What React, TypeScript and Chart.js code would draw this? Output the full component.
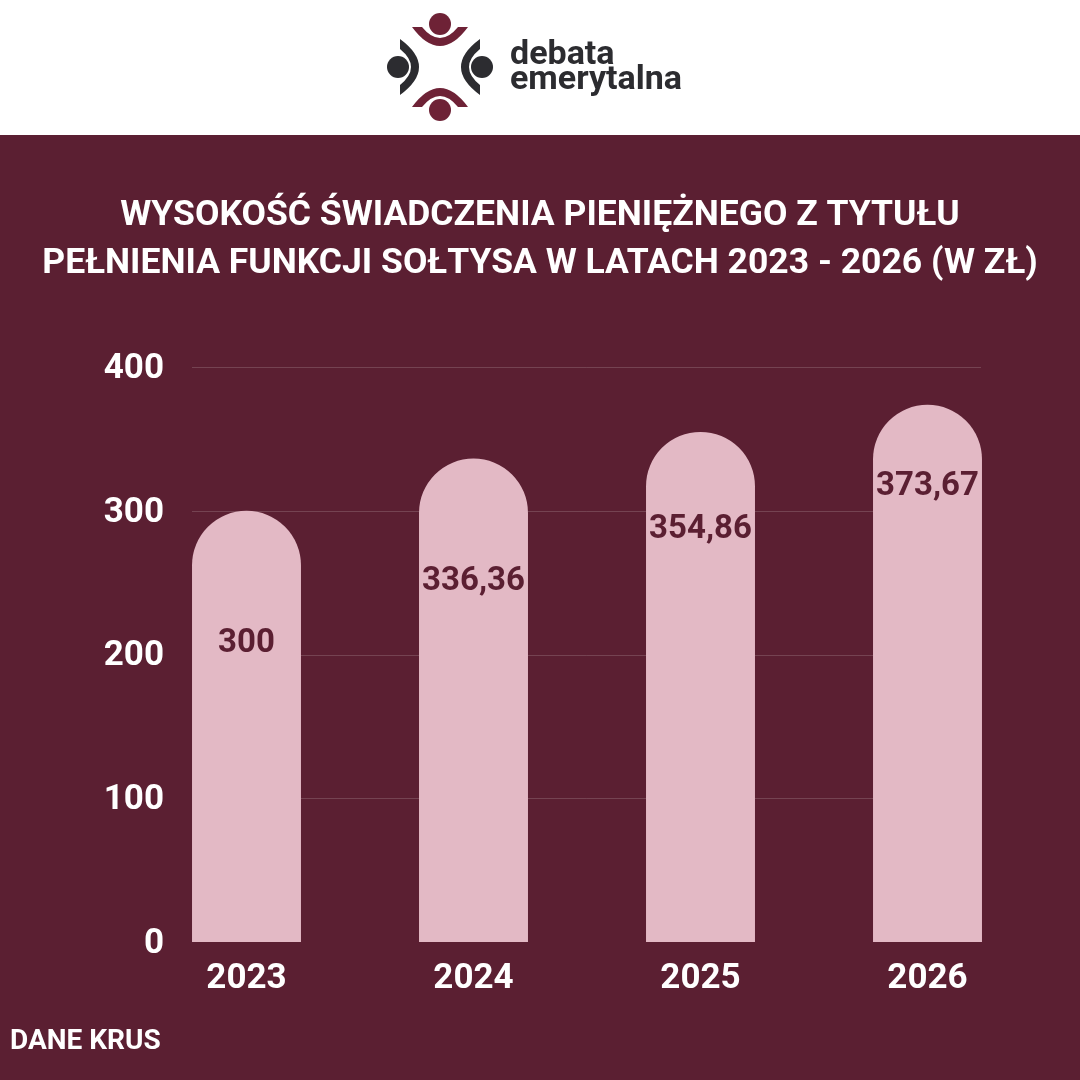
import React, { useEffect, useRef } from "react";
import { Chart, registerables } from "chart.js";

Chart.register(...registerables);

const years = ["2023", "2024", "2025", "2026"];
const amounts = [300, 336.36, 354.86, 373.67];
const amountLabels = ["300", "336,36", "354,86", "373,67"];
const yTicks = [0, 100, 200, 300, 400];
const titleLines = [
  "WYSOKOŚĆ ŚWIADCZENIA PIENIĘŻNEGO Z TYTUŁU",
  "PEŁNIENIA FUNKCJI SOŁTYSA W LATACH 2023 - 2026 (W ZŁ)",
];
const sourceText = "DANE KRUS";

const BG = "#5b1f32";
const BAR = "#e3b9c5";
const FONT = "Roboto";
// label drop below bar top (px), per bar
const labelDrop = [131, 121, 96, 80];

const decorPlugin = {
  id: "decor",
  beforeDraw(chart: any) {
    const { ctx } = chart;
    ctx.save();
    ctx.fillStyle = BG;
    ctx.fillRect(0, 0, 1080, 1080);
    ctx.fillStyle = "#ffffff";
    ctx.fillRect(0, 0, 1080, 135);
    // logo
    const maroon = "#6e2236";
    const dark = "#2c2c30";
    const cx = 440, cy = 67;
    ctx.fillStyle = maroon;
    // top person
    ctx.beginPath(); ctx.arc(cx, cy - 43, 11, 0, Math.PI * 2); ctx.fill();
    ctx.beginPath();
    ctx.moveTo(cx - 28, cy - 40);
    ctx.quadraticCurveTo(cx, cy - 2, cx + 28, cy - 40);
    ctx.lineTo(cx + 18, cy - 40);
    ctx.quadraticCurveTo(cx, cy - 18, cx - 18, cy - 40);
    ctx.closePath(); ctx.fill();
    // bottom person
    ctx.beginPath(); ctx.arc(cx, cy + 43, 11, 0, Math.PI * 2); ctx.fill();
    ctx.beginPath();
    ctx.moveTo(cx - 28, cy + 40);
    ctx.quadraticCurveTo(cx, cy + 2, cx + 28, cy + 40);
    ctx.lineTo(cx + 18, cy + 40);
    ctx.quadraticCurveTo(cx, cy + 18, cx - 18, cy + 40);
    ctx.closePath(); ctx.fill();
    ctx.fillStyle = dark;
    // left person
    ctx.beginPath(); ctx.arc(cx - 42, cy, 11, 0, Math.PI * 2); ctx.fill();
    ctx.beginPath();
    ctx.moveTo(cx - 40, cy - 28);
    ctx.quadraticCurveTo(cx - 2, cy, cx - 40, cy + 28);
    ctx.lineTo(cx - 40, cy + 18);
    ctx.quadraticCurveTo(cx - 18, cy, cx - 40, cy - 18);
    ctx.closePath(); ctx.fill();
    // right person
    ctx.beginPath(); ctx.arc(cx + 42, cy, 11, 0, Math.PI * 2); ctx.fill();
    ctx.beginPath();
    ctx.moveTo(cx + 40, cy - 28);
    ctx.quadraticCurveTo(cx + 2, cy, cx + 40, cy + 28);
    ctx.lineTo(cx + 40, cy + 18);
    ctx.quadraticCurveTo(cx + 18, cy, cx + 40, cy - 18);
    ctx.closePath(); ctx.fill();
    ctx.font = `bold 34px ${FONT}`;
    ctx.textAlign = "left";
    ctx.textBaseline = "alphabetic";
    ctx.fillText("debata", 510, 64);
    ctx.fillText("emerytalna", 510, 89);
    // title
    ctx.fillStyle = "#ffffff";
    ctx.font = `bold 35.5px ${FONT}`;
    ctx.textAlign = "center";
    ctx.textBaseline = "middle";
    ctx.fillText(titleLines[0], 540, 216);
    ctx.fillText(titleLines[1], 540, 264);
    // source
    ctx.font = `bold 28px ${FONT}`;
    ctx.textAlign = "left";
    ctx.fillText(sourceText, 10, 1042);
    // gridlines and y labels
    const y = chart.scales.y;
    ctx.lineWidth = 1;
    yTicks.forEach((t) => {
      const py = y.getPixelForValue(t);
      if (t !== 0) {
        ctx.strokeStyle = "rgba(255,255,255,0.16)";
        const ly = Math.round(py) + 0.5;
        ctx.beginPath(); ctx.moveTo(192, ly); ctx.lineTo(981, ly); ctx.stroke();
      }
      ctx.fillStyle = "#ffffff";
      ctx.font = `bold 35px ${FONT}`;
      ctx.textAlign = "right";
      ctx.textBaseline = "middle";
      ctx.fillText(String(t), 164, py + 2);
    });
    ctx.restore();
  },
  afterDatasetsDraw(chart: any) {
    const { ctx } = chart;
    const meta = chart.getDatasetMeta(0);
    ctx.save();
    ctx.fillStyle = BG;
    ctx.font = `bold 33px ${FONT}`;
    ctx.textAlign = "center";
    ctx.textBaseline = "middle";
    meta.data.forEach((bar: any, i: number) => {
      ctx.fillText(amountLabels[i], bar.x, bar.y + labelDrop[i] + 2);
    });
    ctx.restore();
  },
};

export default function App() {
  const ref = useRef<HTMLCanvasElement>(null);
  useEffect(() => {
    const chart = new Chart(ref.current!, {
      type: "bar",
      data: {
        labels: years,
        datasets: [
          {
            data: amounts,
            backgroundColor: BAR,
            borderRadius: { topLeft: 60, topRight: 60, bottomLeft: 0, bottomRight: 0 },
            borderSkipped: "start",
            barPercentage: 0.48,
            categoryPercentage: 1,
          },
        ],
      },
      options: {
        responsive: false,
        animation: false,
        layout: { padding: { top: 367, left: 8, right: 39, bottom: 0 } },
        plugins: { legend: { display: false }, tooltip: { enabled: false } },
        scales: {
          x: {
            grid: { display: false, drawTicks: false },
            border: { display: false },
            ticks: { color: "#ffffff", font: { family: FONT, size: 35, weight: "bold" }, padding: 16 },
            afterFit: (s: any) => { s.height = 138; },
          },
          y: {
            min: 0,
            max: 400,
            grid: { display: false, drawTicks: false },
            border: { display: false },
            afterBuildTicks: (s: any) => { s.ticks = yTicks.map((v) => ({ value: v })); },
            ticks: { display: false },
            afterFit: (s: any) => { s.width = 125; },
          },
        },
      },
      plugins: [decorPlugin],
    });
    return () => chart.destroy();
  }, []);
  return (
    <div style={{ position: "absolute", left: 0, top: 0, width: 1080, height: 1080 }}>
      <canvas ref={ref} width={1080} height={1080} style={{ display: "block" }} />
    </div>
  );
}
